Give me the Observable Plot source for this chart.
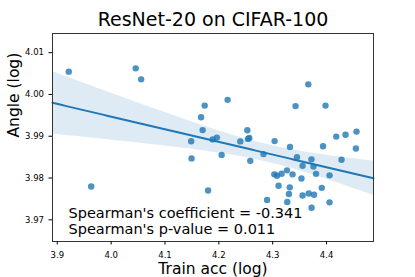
<!DOCTYPE html>
<html>
<head>
<meta charset="utf-8">
<script src="https://cdn.jsdelivr.net/npm/d3@7"></script>
<script src="https://cdn.jsdelivr.net/npm/@observablehq/plot@0.6"></script>
<style>
  html, body { margin: 0; padding: 0; background: #fff; }
  #chart svg { display: block; }
</style>
</head>
<body>
<div id="chart"></div>
<script>
const titleText = "ResNet-20 on CIFAR-100";
const xLabel = "Train acc (log)";
const yLabel = "Angle (log)";
const statLines = ["Spearman's coefficient = -0.341", "Spearman's p-value = 0.011"];

const trainAcc = [
  3.9213, 4.0456, 4.0557, 3.9629, 4.1486, 4.1494, 4.1670, 4.1699, 4.1737, 4.1800,
  4.1885, 4.1963, 4.2052, 4.2163, 4.2399, 4.2529, 4.2542, 4.2566, 4.2584, 4.2829,
  4.3035, 4.3321, 4.3425, 4.3661, 4.3981, 4.3451, 4.3720, 4.3555, 4.3757, 4.3030,
  4.3080, 4.3165, 4.3265, 4.3369, 4.3805, 4.3534, 4.4056, 4.3109, 4.3317, 4.3911,
  4.3302, 4.3555, 4.3670, 4.3768, 4.2896, 4.3271, 4.4056, 4.3722, 4.4180, 4.4353,
  4.4557, 4.3935, 4.4545, 4.4278
];
const angle = [
  4.00546, 4.00625, 4.00362, 3.97796, 3.98879, 3.98470, 3.99453, 3.99147, 3.99733, 3.97701,
  3.98925, 3.98968, 3.98554, 3.99871, 3.98877, 3.99142, 3.98937, 3.98961, 3.98411, 3.98573,
  3.98884, 3.98745, 3.99721, 4.00242, 3.99733, 3.98497, 3.98447, 3.98291, 3.98274, 3.98088,
  3.98054, 3.98102, 3.98184, 3.98088, 3.98100, 3.97987, 3.98064, 3.97815, 3.97777, 3.97765,
  3.97617, 3.97581, 3.97629, 3.97600, 3.97476, 3.97426, 3.97418, 3.97287, 3.98992, 3.99035,
  3.99111, 3.98760, 3.98705, 3.98437
];
const xTicks = [3.9, 4.0, 4.1, 4.2, 4.3, 4.4];
const yTicks = [3.97, 3.98, 3.99, 4.00, 4.01];
const xDomain = [3.8911, 4.4872];
const yDomain = [3.96481, 4.01459];

const points = trainAcc.map((x, i) => ({x, y: angle[i]}));

// OLS regression with 95% confidence band over the full axis range
const n = points.length;
const mx = d3.mean(trainAcc), my = d3.mean(angle);
const sxx = d3.sum(trainAcc, x => (x - mx) ** 2);
const sxy = d3.sum(points, p => (p.x - mx) * (p.y - my));
const slope = sxy / sxx, intercept = my - slope * mx;
const sse = d3.sum(points, p => (p.y - (intercept + slope * p.x)) ** 2);
const s = Math.sqrt(sse / (n - 2));
const tval = 2.0066;
const grid = d3.range(0, 101).map(i => xDomain[0] + (xDomain[1] - xDomain[0]) * i / 100);
const fit = grid.map(x => {
  const yh = intercept + slope * x;
  const se = s * Math.sqrt(1 / n + (x - mx) ** 2 / sxx);
  return {x, y: yh, lo: yh - tval * se, hi: yh + tval * se};
});

const blue = "#1f77b4";
const chart = Plot.plot({
  width: 415,
  height: 277,
  marginLeft: 52,
  marginRight: 42,
  marginTop: 33,
  marginBottom: 36,
  style: {fontFamily: "DejaVu Sans", fontSize: "8.5px", color: "#000", background: "#fff"},
  x: {domain: xDomain},
  y: {domain: yDomain},
  marks: [
    Plot.dot(points, {x: "x", y: "y", r: 3.2, fill: blue, fillOpacity: 0.8, stroke: "none"}),
    Plot.areaY(fit, {x: "x", y1: "lo", y2: "hi", fill: blue, fillOpacity: 0.15}),
    Plot.line(fit, {x: "x", y: "y", stroke: blue, strokeWidth: 2}),
    Plot.frame({stroke: "#333", strokeWidth: 1}),
    Plot.axisX(xTicks, {tickSize: 3.5, tickPadding: 6.5, tickFormat: d => d.toFixed(1), label: null, fontSize: 8.5}),
    Plot.axisY(yTicks, {tickSize: 3.5, tickPadding: 5, tickFormat: d => d.toFixed(2), label: null, fontSize: 8.5}),
    Plot.text([titleText], {frameAnchor: "top", lineAnchor: "bottom", dy: -7.5, fontSize: 19, fill: "#000"}),
    Plot.text([xLabel], {frameAnchor: "bottom", lineAnchor: "bottom", dy: 32.5, fontSize: 15.5, fill: "#000"}),
    Plot.text([yLabel], {frameAnchor: "left", lineAnchor: "middle", rotate: -90, dx: -38.7, fontSize: 15.5, fill: "#000"}),
    Plot.text([statLines.join("\n")], {frameAnchor: "top-left", textAnchor: "start", lineAnchor: "top", dx: 16, dy: 173.1, fontSize: 14.5, lineHeight: 16 / 14.5, fill: "#000"})
  ]
});
document.getElementById("chart").appendChild(chart);
</script>
</body>
</html>
